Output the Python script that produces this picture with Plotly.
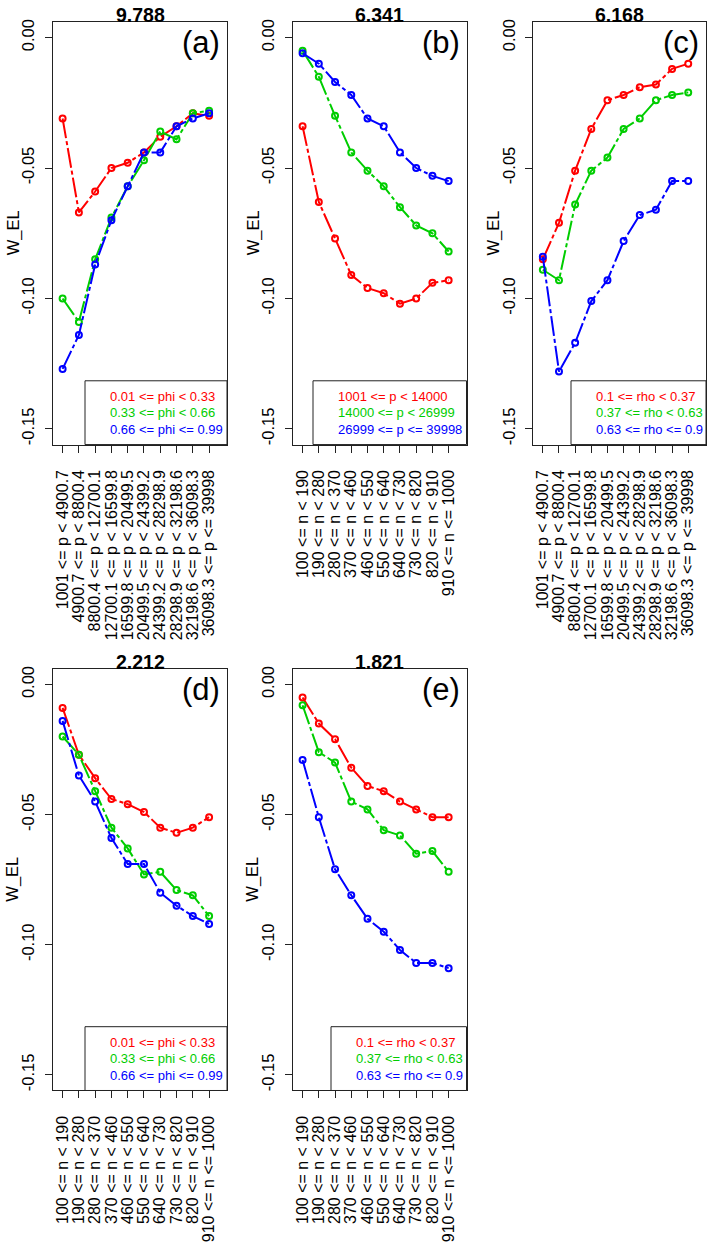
import plotly.graph_objects as go

W, H = 712, 1246

# ---------------- data ----------------
labels_p = ["1001 <= p < 4900.7", "4900.7 <= p < 8800.4", "8800.4 <= p < 12700.1",
            "12700.1 <= p < 16599.8", "16599.8 <= p < 20499.5", "20499.5 <= p < 24399.2",
            "24399.2 <= p < 28298.9", "28298.9 <= p < 32198.6", "32198.6 <= p < 36098.3",
            "36098.3 <= p <= 39998"]
labels_n = ["100 <= n < 190", "190 <= n < 280", "280 <= n < 370", "370 <= n < 460",
            "460 <= n < 550", "550 <= n < 640", "640 <= n < 730", "730 <= n < 820",
            "820 <= n < 910", "910 <= n <= 1000"]

leg_phi = ["0.01 <= phi < 0.33", "0.33 <= phi < 0.66", "0.66 <= phi <= 0.99"]
leg_p = ["1001 <= p < 14000", "14000 <= p < 26999", "26999 <= p <= 39998"]
leg_rho = ["0.1 <= rho < 0.37", "0.37 <= rho < 0.63", "0.63 <= rho <= 0.9"]

titles = ["9.788", "6.341", "6.168", "2.212", "1.821"]
tags = ["(a)", "(b)", "(c)", "(d)", "(e)"]

a_red = [-0.031, -0.067, -0.059, -0.050, -0.048, -0.044, -0.038, -0.034, -0.029, -0.030]
a_green = [-0.100, -0.109, -0.085, -0.069, -0.057, -0.047, -0.036, -0.039, -0.029, -0.028]
a_blue = [-0.127, -0.114, -0.087, -0.070, -0.057, -0.044, -0.044, -0.034, -0.031, -0.029]

b_red = [-0.034, -0.063, -0.077, -0.091, -0.096, -0.098, -0.102, -0.100, -0.094, -0.093]
b_green = [-0.005, -0.015, -0.030, -0.044, -0.051, -0.057, -0.065, -0.072, -0.075, -0.082]
b_blue = [-0.006, -0.010, -0.017, -0.022, -0.031, -0.034, -0.044, -0.050, -0.053, -0.055]

c_red = [-0.085, -0.071, -0.051, -0.035, -0.024, -0.022, -0.019, -0.018, -0.012, -0.010]
c_green = [-0.089, -0.093, -0.064, -0.051, -0.046, -0.035, -0.031, -0.024, -0.022, -0.021]
c_blue = [-0.084, -0.128, -0.117, -0.101, -0.093, -0.078, -0.068, -0.066, -0.055, -0.055]

d_red = [-0.009, -0.027, -0.036, -0.044, -0.046, -0.049, -0.055, -0.057, -0.055, -0.051]
d_green = [-0.020, -0.027, -0.041, -0.055, -0.063, -0.073, -0.072, -0.079, -0.081, -0.089]
d_blue = [-0.014, -0.035, -0.045, -0.059, -0.069, -0.069, -0.080, -0.085, -0.089, -0.092]

e_red = [-0.005, -0.015, -0.021, -0.032, -0.039, -0.041, -0.045, -0.048, -0.051, -0.051]
e_green = [-0.008, -0.026, -0.030, -0.045, -0.048, -0.056, -0.058, -0.065, -0.064, -0.072]
e_blue = [-0.029, -0.051, -0.071, -0.081, -0.090, -0.095, -0.102, -0.107, -0.107, -0.109]

y_ticks = [0.0, -0.05, -0.10, -0.15]
y_ticktext = ["0.00", "-0.05", "-0.10", "-0.15"]

# ---------------- style ----------------
FONT = "Liberation Sans, Arial, sans-serif"
COLORS = ["#FF0000", "#00CD00", "#0000FF"]
DASH = "20px,3px,4px,3px"

panels = [
    dict(series=[a_red, a_green, a_blue], labels=labels_p, legend=leg_phi,
         box=(53, 227, 19, 443), legx=85),
    dict(series=[b_red, b_green, b_blue], labels=labels_n, legend=leg_p,
         box=(293, 466.5, 19, 443), legx=313),
    dict(series=[c_red, c_green, c_blue], labels=labels_p, legend=leg_rho,
         box=(533.3, 706, 19, 443), legx=571),
    dict(series=[d_red, d_green, d_blue], labels=labels_n, legend=leg_phi,
         box=(53, 227, 668, 1091), legx=85),
    dict(series=[e_red, e_green, e_blue], labels=labels_n, legend=leg_rho,
         box=(293, 466.5, 668, 1091), legx=331),
]


def px(x):
    return x / W


def py(y):
    return 1 - y / H


fig = go.Figure()
annotations = []
shapes = []

for i, p in enumerate(panels):
    k = "" if i == 0 else str(i + 1)
    xa, ya = "x" + k, "y" + k
    x0, x1, y0, y1 = p["box"]
    xs = list(range(1, len(p["labels"]) + 1))
    for s, col in zip(p["series"], COLORS):
        fig.add_trace(go.Scatter(
            x=xs, y=s, xaxis=xa, yaxis=ya, mode="lines+markers",
            line=dict(color=col, width=2, dash=DASH),
            marker=dict(symbol="circle-open", size=6, color=col, line=dict(width=2, color=col)),
            showlegend=False, hoverinfo="skip"))
    axis_common = dict(showline=True, linecolor="#222", linewidth=1, mirror=True,
                       ticks="outside", ticklen=7, tickwidth=1, tickcolor="#222",
                       showgrid=False, zeroline=False)
    fig.layout["xaxis" + k] = dict(
        domain=[px(x0), px(x1)], anchor=ya, range=[0.41, 11.1],
        tickmode="array", tickvals=xs, ticktext=p["labels"], tickangle=-90,
        ticklabelstandoff=11, tickfont=dict(family=FONT, size=16, color="black"),
        **axis_common)
    fig.layout["yaxis" + k] = dict(
        domain=[py(y1), py(y0)], anchor=xa, range=[-0.156, 0.006],
        tickmode="array", tickvals=y_ticks, ticktext=y_ticktext, tickangle=-90,
        ticklabelstandoff=4, tickfont=dict(family=FONT, size=16.5, color="black"),
        **axis_common)

    cx = (x0 + x1) / 2
    # title
    annotations.append(dict(x=px(cx), y=py(y0 - 7), xref="paper", yref="paper",
                            text="<b>" + titles[i] + "</b>", showarrow=False,
                            font=dict(family=FONT, size=19.5, color="black"),
                            xanchor="center", yanchor="middle"))
    # panel tag
    annotations.append(dict(x=px(x1 - 5), y=py(y0 + 21), xref="paper", yref="paper",
                            text=tags[i], showarrow=False,
                            font=dict(family=FONT, size=31, color="black"),
                            xanchor="right", yanchor="middle"))
    # y-axis title
    annotations.append(dict(x=px(x0 - 40), y=py((y0 + y1) / 2), xref="paper", yref="paper",
                            text="W_EL", showarrow=False, textangle=-90,
                            font=dict(family=FONT, size=16.5, color="black"),
                            xanchor="center", yanchor="middle"))
    # legend box
    lx = p["legx"]
    shapes.append(dict(type="rect", xref="paper", yref="paper",
                       x0=px(lx), x1=px(x1), y0=py(y1), y1=py(y1 - 64),
                       line=dict(color="#222", width=1), fillcolor="white", layer="above"))
    for j, (txt, col) in enumerate(zip(p["legend"], COLORS)):
        annotations.append(dict(x=px(lx + 23), y=py(y1 - 48 + 16.3 * j), xref="paper", yref="paper",
                                text=txt, showarrow=False,
                                font=dict(family=FONT, size=13, color=col),
                                xanchor="left", yanchor="middle"))

fig.update_layout(width=W, height=H, margin=dict(l=0, r=0, t=0, b=0),
                  paper_bgcolor="white", plot_bgcolor="white",
                  annotations=annotations, shapes=shapes)

fig.write_html("out.html", config={"displayModeBar": False},
               post_script="document.body.style.margin='0';document.body.style.overflow='hidden';")
